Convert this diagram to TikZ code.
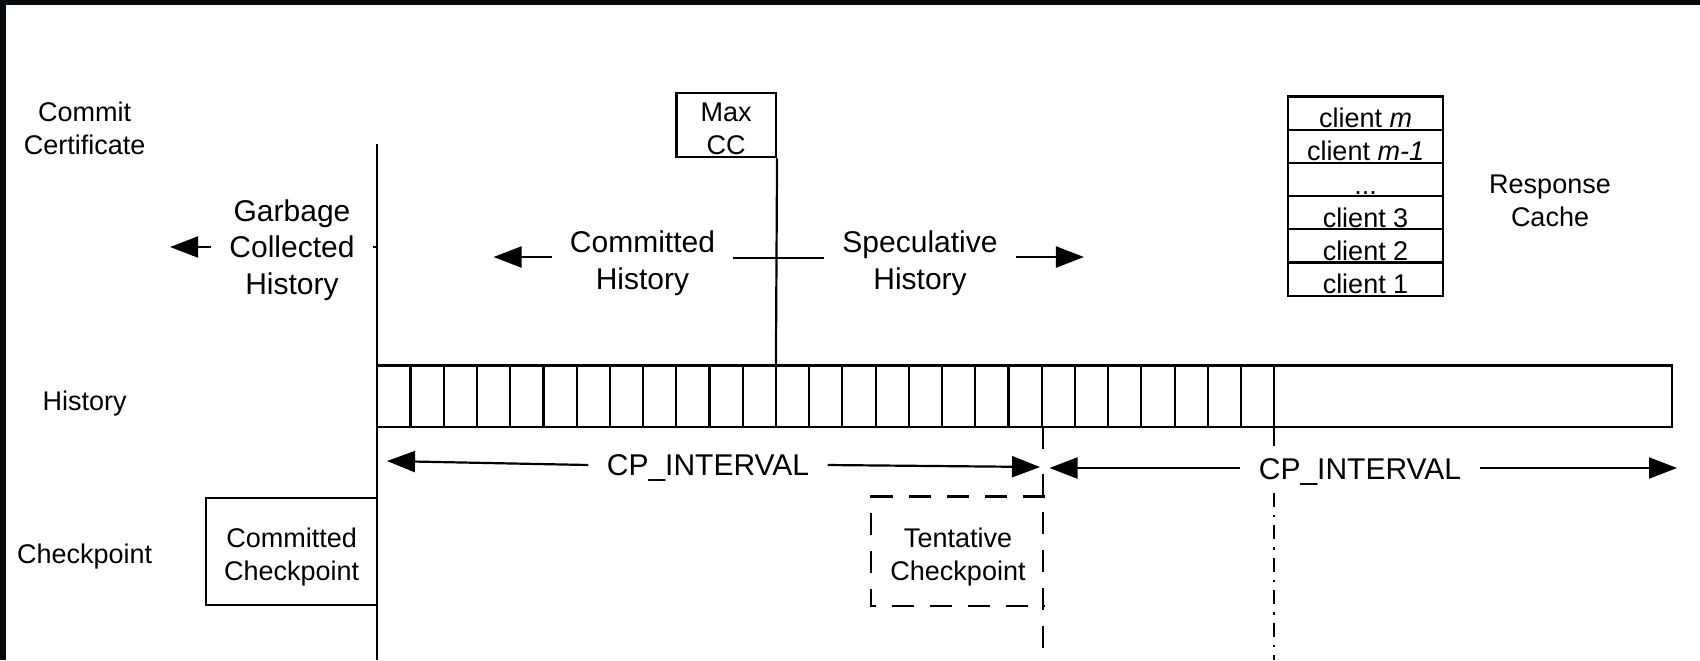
\documentclass[tikz,border=0pt]{standalone}
\usepackage{fontspec}
\setmainfont{Liberation Sans}
\usetikzlibrary{arrows.meta,positioning}
\definecolor{framecol}{RGB}{7,11,16}
\tikzset{
  >={Triangle[length=14pt,width=10.5pt]},
  {thickline/.style} ={draw, line width=1.1pt},
  {small text/.style} ={font=\fontsize{13.5}{16.4}\selectfont, align=center},
  {big text/.style} ={font=\fontsize{15}{18.25}\selectfont, align=center,
                  inner xsep=9pt, inner ysep=0pt},
  {box/.style} ={thickline, rectangle, small text, inner sep=0},
  {cp box/.style} ={box, minimum width=85.6pt, minimum height=53.7pt},
  {cache cell/.style} ={box, minimum width=77.5pt, minimum height=16.6pt,
                  outer sep=0pt, text height=14.5pt, text depth=0pt},
  {tent line/.style} ={thickline, dash pattern=on 11pt off 8pt},
  {cutline/.style} ={thickline, dash pattern=on 7pt off 4pt on 1.2pt off 4pt},
}

\begin{document}
\begin{tikzpicture}[x=0.5pt,y=-0.5pt]
\useasboundingbox (0,0) rectangle (1700,660);
\fill[framecol] (0,0) rectangle (1700,5);
\fill[framecol] (0,0) rectangle (6,660);

% row captions
\node[small text] (ccrow) at (84.6,128) {Commit\\Certificate};
\node[small text] (histrow) at (84.6,403.5) {History};
\node[small text] (cprow) at (84.6,556.5) {Checkpoint};

% the log, 27 slots then free space
\draw[thickline] (377.3,365.4) rectangle (1671.8,427.2);
\foreach \i in {1,...,27}
  \draw[thickline] ({377.3+33.22*\i},365.4) -- ++(0,61.8);

% garbage collection boundary
\coordinate (gctop) at (377.3,144.2);
\coordinate (gcbot) at (377.3,660);
\draw[thickline] (gctop) -- (gcbot);

\node[box, minimum width=49.75pt, minimum height=32pt] (maxcc) at (726.2,125.2) {};
\node[small text] (maxcctext) at ([yshift=-2pt]maxcc.center) {Max\\CC};
\coordinate (ccbar) at (775.9,365.4);
\draw[thickline] (maxcc.south east) -- (ccbar);

\node[big text] (gc) at (292,250) {Garbage\\Collected\\History};
\draw[thickline,->] ([yshift=1.5pt]gc.west) -- ++(-41,0);
\draw[thickline] ([yshift=1.5pt]gc.east) -- ([yshift=1.5pt]gc.east -| gctop);

\node[big text] (committed) at (642.5,263) {Committed\\History};
\node[big text] (spec) at (920,263) {Speculative\\History};
\draw[thickline,->] ([yshift=3pt]committed.west) -- ++(-58,0);
\draw[thickline] ([yshift=2.5pt]committed.east) -- ([yshift=2.5pt]spec.west);
\draw[thickline,->] ([yshift=3pt]spec.east) -- ++(68,0);

% checkpoint intervals
\coordinate (tentbar) at (1042.8,427.2);
\coordinate (nextbar) at (1274.2,427.2);
\coordinate (cp1l) at (387,461);
\coordinate (cp1r) at (1040,467);
\coordinate (cp2l) at (1049.5,468);
\coordinate (cp2r) at (1677,468);
\node[big text] (cp1) at (708,468) {CP\_INTERVAL};
\node[big text] (cp2) at (1360,472) {CP\_INTERVAL};
\draw[thickline,->] ([yshift=1.5pt]cp1.west) -- (cp1l);
\draw[thickline,->] ([yshift=1.5pt]cp1.east) -- (cp1r);
\draw[thickline,->] ([yshift=2pt]cp2.west) -- (cp2l);
\draw[thickline,->] ([yshift=2pt]cp2.east) -- (cp2r);

% checkpoints
\node[cp box] (cpcommit) at (291.6,551.3) {};
\node[small text] (cpcommittext) at ([yshift=-2.7pt]cpcommit.center) {Committed\\Checkpoint};
\node[cp box, draw=none] (cptent) at (958,551.3) {};
\node[small text] (cptenttext) at ([yshift=-2.7pt]cptent.center) {Tentative\\Checkpoint};
\draw[tent line] (cptent.north east) -- (cptent.north west)
  -- (cptent.south west) -- (cptent.south east);
\draw[thickline] (tentbar) -- ++(0,22);
\draw[tent line] (1042.8,474) -- (1042.8,660);
\draw[thickline] (nextbar) -- ++(0,19);
\draw[cutline] (1274.2,493) -- (1274.2,660);

% response cache
\node[cache cell] (cm) at (1365.5,113.1) {client \textit{m}};
\node[cache cell, below=0pt of cm] (cm1) {client \textit{m-1}};
\node[cache cell, below=0pt of cm1] (cdots) {...};
\node[cache cell, below=0pt of cdots] (c3) {client 3};
\node[cache cell, below=0pt of c3] (c2) {client 2};
\node[cache cell, below=0pt of c2] (c1) {client 1};
\node[small text] (rc) at (1550,201) {Response\\Cache};
\end{tikzpicture}
\end{document}
